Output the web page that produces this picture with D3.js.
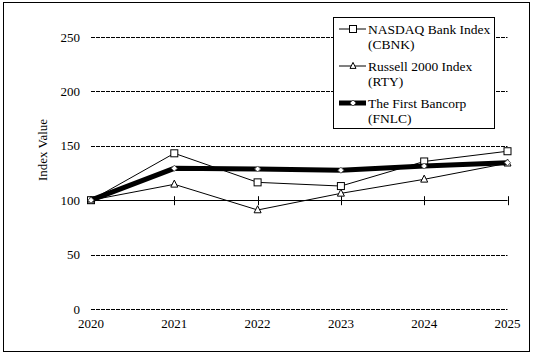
<!DOCTYPE html>
<html><head><meta charset="utf-8">
<script src="https://cdn.jsdelivr.net/npm/d3@7"></script>
<style>body{margin:0;background:#fff}svg{display:block}text{font-family:"Liberation Serif","Times New Roman",serif;fill:#000}</style>
</head><body>
<script>
const years = ["2020","2021","2022","2023","2024","2025"];
const nasdaq = [100, 143.1, 116.4, 113, 135.6, 145];
const russell = [100, 114.6, 91, 106.3, 119.2, 134];
const fnlc = [100, 129.3, 128.7, 127.5, 131.4, 134.5];
const yTicks = [0, 50, 100, 150, 200, 250];
const seriesNames = [["NASDAQ Bank Index","(CBNK)"],["Russell 2000 Index","(RTY)"],["The First Bancorp","(FNLC)"]];

const W = 533, H = 357;
const svg = d3.select("body").append("svg").attr("width", W).attr("height", H);
svg.append("rect").attr("x",3.5).attr("y",2.5).attr("width",526).attr("height",349).attr("fill","#fff").attr("stroke","#000").attr("stroke-width",1);

const x = d3.scalePoint().domain(years).range([91, 507.5]);
const y = d3.scaleLinear().domain([0, 250]).range([309, 37]);

// gridlines
svg.append("g").selectAll("line").data(yTicks.filter(d => d !== 100)).join("line")
  .attr("x1", 91).attr("x2", 507.5).attr("y1", d => Math.round(y(d))+0.5).attr("y2", d => Math.round(y(d))+0.5)
  .attr("stroke", "#000").attr("stroke-width", 1).attr("stroke-dasharray", "4,1");

// y labels
svg.append("g").selectAll("text").data(yTicks).join("text")
  .attr("x", 80).attr("y", d => y(d) + 4.5).attr("text-anchor", "end").attr("font-size", 13).text(d => d);

// x-axis crossing at 100
const xAxis = d3.axisBottom(x).tickSize(0).tickFormat("");
const ax = svg.append("g").attr("transform", `translate(0,${Math.round(y(100))+0.5})`).call(xAxis);
ax.select(".domain").attr("stroke", "#000").attr("d", `M91,0H507.5`);
svg.append("g").selectAll("line").data(years.slice(1)).join("line")
  .attr("x1", d => Math.round(x(d))+0.5).attr("x2", d => Math.round(x(d))+0.5)
  .attr("y1", y(100)-4).attr("y2", y(100)+5).attr("stroke", "#000");

// x labels at bottom
svg.append("g").selectAll("text").data(years).join("text")
  .attr("x", d => x(d)).attr("y", 328).attr("text-anchor", "middle").attr("font-size", 13).text(d => d);

// y title
svg.append("text").attr("transform", "translate(47,150) rotate(-90)").attr("text-anchor", "middle").attr("font-size", 13).text("Index Value");

const line = d3.line().x((d,i) => x(years[i])).y(d => y(d));
function sq(g, cx, cy, s){ g.append("rect").attr("x", cx-s/2).attr("y", cy-s/2).attr("width", s).attr("height", s).attr("fill","#fff").attr("stroke","#000").attr("stroke-width",1); }
function tri(g, cx, cy, s){ g.append("path").attr("d", `M${cx},${cy-s*0.6}L${cx+s/2},${cy+s*0.4}L${cx-s/2},${cy+s*0.4}Z`).attr("fill","#fff").attr("stroke","#000").attr("stroke-width",1); }
function dia(g, cx, cy, s){ g.append("path").attr("d", `M${cx},${cy-s/2}L${cx+s/2},${cy}L${cx},${cy+s/2}L${cx-s/2},${cy}Z`).attr("fill","#fff").attr("stroke","#555").attr("stroke-width",1); }

const gN = svg.append("g");
gN.append("path").datum(nasdaq).attr("d", line).attr("fill","none").attr("stroke","#000").attr("stroke-width",1);
const gR = svg.append("g");
gR.append("path").datum(russell).attr("d", line).attr("fill","none").attr("stroke","#000").attr("stroke-width",1);
const gF = svg.append("g");
gF.append("path").datum(fnlc).attr("d", line).attr("fill","none").attr("stroke","#000").attr("stroke-width",5);
nasdaq.forEach((v,i) => sq(gN, x(years[i]), y(v), 7));
russell.forEach((v,i) => tri(gR, x(years[i]), y(v), 7));
fnlc.forEach((v,i) => dia(gF, x(years[i]), y(v), 6));

// legend
const lg = svg.append("g");
lg.append("rect").attr("x", 333.5).attr("y", 17.5).attr("width", 161).attr("height", 111).attr("fill","#fff").attr("stroke","#000");
const rows = [29, 66, 103];
const sw = [1,1,5];
const mk = [sq, tri, dia];
const ms = [7,6,6];
seriesNames.forEach((nm, i) => {
  const cy = rows[i];
  lg.append("line").attr("x1", 339).attr("x2", 366).attr("y1", cy).attr("y2", cy).attr("stroke","#000").attr("stroke-width", sw[i]);
  mk[i](lg, 353, cy, ms[i]);
  lg.append("text").attr("x", 368).attr("y", cy+4.5).attr("font-size", 13.5).text(nm[0]);
  lg.append("text").attr("x", 368).attr("y", cy+19.5).attr("font-size", 13.5).text(nm[1]);
});
</script>
</body></html>
